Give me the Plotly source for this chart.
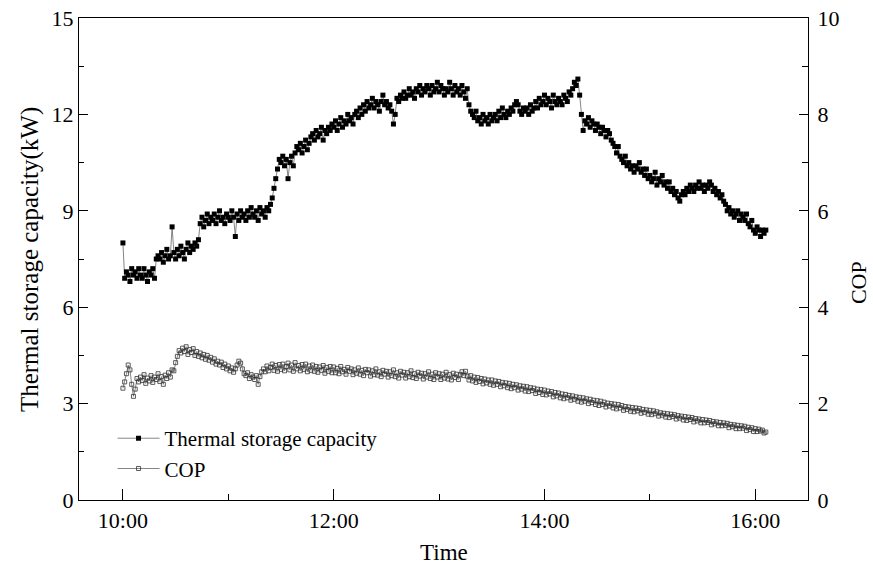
import pandas as pd
import plotly.graph_objects as go

# Sampling: one reading per minute starting at 10:00
start_time = "2020-01-01 10:00"

thermal_kw = [
    8.0, 6.9, 7.1, 7.0, 6.8, 7.2, 7.0, 7.1, 6.9, 7.2,
    7.0, 6.9, 7.2, 7.0, 6.8, 7.1, 7.0, 7.2, 6.9, 7.5,
    7.6, 7.5, 7.7, 7.4, 7.6, 7.8, 7.5, 7.6, 8.5, 7.7,
    7.5, 7.8, 7.6, 7.9, 7.7, 7.5, 7.8, 8.0, 7.7, 7.9,
    7.8, 8.0, 7.9, 8.1, 8.6, 8.8, 8.5, 8.7, 8.9, 8.6,
    8.8, 8.7, 8.9, 8.6, 8.8, 9.0, 8.7, 8.8, 8.6, 8.9,
    8.8, 8.7, 9.0, 8.8, 8.2, 8.9, 8.7, 9.0, 8.8, 8.9,
    8.7, 9.0, 8.8, 9.1, 8.9, 8.8, 9.0, 8.7, 9.1, 8.9,
    9.0, 8.8, 9.1, 9.0, 9.2, 9.4, 9.7, 10.0, 10.3, 10.6,
    10.5, 10.7, 10.4, 10.6, 10.0, 10.5, 10.7, 10.4, 10.8, 11.0,
    10.9, 11.1, 10.8, 11.0, 11.2, 10.9, 11.1, 11.3, 11.4, 11.2,
    11.5, 11.3, 11.4, 11.6, 11.2, 11.5, 11.4, 11.6, 11.5, 11.7,
    11.6, 11.8, 11.5, 11.7, 11.9, 11.6, 11.8, 11.7, 12.0, 11.8,
    11.9, 11.7, 12.0, 12.1, 11.9, 12.2, 12.0, 12.3, 12.1, 12.4,
    12.2, 12.3, 12.5, 12.2, 12.4, 12.3, 12.1, 12.4, 12.6, 12.3,
    12.4, 12.2, 12.3, 12.1, 11.7, 12.0, 12.5, 12.4, 12.6, 12.5,
    12.7, 12.5, 12.6, 12.8, 12.6, 12.7, 12.5, 12.8, 12.7, 12.9,
    12.6, 12.8, 12.7, 12.9, 12.8, 12.6, 12.9, 12.7, 12.8, 13.0,
    12.7, 12.9, 12.8, 12.6, 12.8, 12.7, 13.0, 12.8, 12.6, 12.9,
    12.7, 12.8, 12.6, 12.9, 12.7, 12.5, 12.8, 12.3, 12.1, 12.0,
    11.9, 12.1, 11.8, 11.9, 11.7, 12.0, 11.8, 11.9, 11.7, 12.0,
    11.8, 11.9, 12.0, 11.8, 12.1, 11.9, 12.2, 12.0, 11.9, 12.1,
    12.0, 12.2, 12.1, 12.3, 12.4, 12.3, 12.1, 12.0, 12.2, 12.1,
    12.2, 12.0, 12.3, 12.1, 12.2, 12.4, 12.2, 12.5, 12.3, 12.4,
    12.6, 12.3, 12.5, 12.4, 12.2, 12.6, 12.4, 12.3, 12.5, 12.4,
    12.3, 12.6, 12.5, 12.4, 12.7, 12.6, 12.8, 13.0, 12.9, 13.1,
    12.6, 12.0, 11.5, 11.8, 11.7, 11.9, 11.6, 11.8, 11.7, 11.5,
    11.7, 11.6, 11.4, 11.6, 11.5, 11.3, 11.5, 11.4, 11.2, 11.1,
    11.0, 10.8, 11.0, 10.7, 10.6, 10.5, 10.7, 10.4, 10.5, 10.3,
    10.4, 10.2, 10.4, 10.3, 10.5, 10.2, 10.3, 10.1, 10.3, 10.0,
    10.1, 9.9, 10.0, 10.2, 9.8, 10.0, 9.9, 10.1, 9.8, 9.9,
    9.7, 9.9, 9.6, 9.7, 9.5, 9.6, 9.4, 9.3, 9.5, 9.6,
    9.5, 9.7, 9.6, 9.8, 9.7, 9.6, 9.8, 9.7, 9.9, 9.7,
    9.8, 9.6, 9.8, 9.7, 9.9, 9.8, 9.6, 9.7, 9.5, 9.6,
    9.4, 9.5, 9.3, 9.2, 9.0, 9.1, 8.9, 9.0, 8.8, 8.9,
    9.0, 8.7, 8.9, 8.8, 8.7, 8.9, 8.6, 8.5, 8.7, 8.4,
    8.3, 8.5, 8.4, 8.2, 8.4, 8.3, 8.4,
]

cop = [
    2.32, 2.45, 2.62, 2.80, 2.70, 2.40, 2.15, 2.30, 2.52, 2.45,
    2.55, 2.48, 2.60, 2.42, 2.53, 2.47, 2.58, 2.44, 2.55, 2.50,
    2.62, 2.46, 2.56, 2.40, 2.59, 2.52, 2.64, 2.55, 2.70, 2.68,
    2.85, 2.98, 3.10, 3.05, 3.15, 3.08, 3.18, 3.02, 3.12, 3.06,
    3.14, 3.00, 3.08, 2.98, 3.05, 2.95, 3.02, 2.92, 3.00, 2.90,
    2.96, 2.86, 2.93, 2.82, 2.88, 2.80, 2.86, 2.75, 2.82, 2.72,
    2.78, 2.68, 2.74, 2.65, 2.72, 2.80, 2.88, 2.84, 2.72, 2.62,
    2.58, 2.64, 2.52, 2.60, 2.55, 2.50, 2.58, 2.40, 2.56, 2.66,
    2.72, 2.66, 2.78, 2.68, 2.75, 2.82, 2.69, 2.79, 2.67, 2.81,
    2.71, 2.82, 2.68, 2.77, 2.84, 2.70, 2.80, 2.67, 2.85, 2.72,
    2.79, 2.68, 2.81, 2.71, 2.82, 2.66, 2.78, 2.69, 2.80, 2.67,
    2.77, 2.65, 2.76, 2.69, 2.79, 2.63, 2.75, 2.67, 2.77, 2.64,
    2.76, 2.64, 2.73, 2.62, 2.77, 2.66, 2.71, 2.61, 2.75, 2.67,
    2.72, 2.60, 2.70, 2.63, 2.74, 2.61, 2.69, 2.58, 2.71, 2.64,
    2.70, 2.57, 2.68, 2.60, 2.72, 2.59, 2.66, 2.56, 2.69, 2.61,
    2.67, 2.55, 2.66, 2.58, 2.70, 2.56, 2.64, 2.53, 2.67, 2.59,
    2.65, 2.53, 2.64, 2.56, 2.68, 2.54, 2.62, 2.52, 2.65, 2.57,
    2.63, 2.51, 2.62, 2.55, 2.66, 2.52, 2.61, 2.50, 2.64, 2.55,
    2.62, 2.50, 2.61, 2.53, 2.65, 2.51, 2.60, 2.49, 2.63, 2.54,
    2.61, 2.50, 2.60, 2.66, 2.58, 2.67, 2.57, 2.49, 2.58, 2.47,
    2.55, 2.44, 2.54, 2.46, 2.52, 2.41, 2.51, 2.43, 2.49, 2.40,
    2.49, 2.38, 2.47, 2.40, 2.46, 2.35, 2.44, 2.37, 2.43, 2.33,
    2.42, 2.31, 2.40, 2.33, 2.39, 2.28, 2.37, 2.30, 2.36, 2.26,
    2.35, 2.25, 2.33, 2.27, 2.32, 2.21, 2.30, 2.23, 2.29, 2.19,
    2.28, 2.18, 2.26, 2.20, 2.25, 2.14, 2.23, 2.16, 2.22, 2.12,
    2.20, 2.10, 2.19, 2.12, 2.17, 2.07, 2.16, 2.09, 2.14, 2.05,
    2.13, 2.03, 2.12, 2.05, 2.10, 2.00, 2.09, 2.02, 2.07, 1.98,
    2.06, 1.96, 2.05, 1.98, 2.03, 1.93, 2.01, 1.95, 2.00, 1.91,
    1.99, 1.89, 1.98, 1.91, 1.96, 1.86, 1.94, 1.88, 1.93, 1.84,
    1.92, 1.83, 1.91, 1.85, 1.90, 1.80, 1.88, 1.82, 1.87, 1.78,
    1.86, 1.77, 1.85, 1.79, 1.83, 1.74, 1.81, 1.76, 1.80, 1.72,
    1.79, 1.71, 1.78, 1.73, 1.77, 1.68, 1.75, 1.70, 1.74, 1.66,
    1.73, 1.65, 1.72, 1.67, 1.71, 1.62, 1.69, 1.64, 1.68, 1.60,
    1.67, 1.60, 1.66, 1.61, 1.65, 1.56, 1.63, 1.58, 1.62, 1.54,
    1.61, 1.54, 1.60, 1.55, 1.59, 1.50, 1.57, 1.52, 1.56, 1.48,
    1.55, 1.48, 1.54, 1.49, 1.53, 1.44, 1.51, 1.46, 1.50, 1.42,
    1.48, 1.42, 1.47, 1.43, 1.45, 1.39, 1.41,
]

times = pd.date_range(start_time, periods=len(thermal_kw), freq="1min")
times_cop = pd.date_range(start_time, periods=len(cop), freq="1min")

FONT = "Liberation Serif, Times New Roman, serif"

fig = go.Figure()
fig.add_trace(go.Scatter(
    x=times, y=thermal_kw, name="Thermal storage capacity",
    mode="lines+markers",
    line=dict(color="#666666", width=0.8),
    marker=dict(symbol="square", size=5, color="black"),
    yaxis="y",
))
fig.add_trace(go.Scatter(
    x=times_cop, y=cop, name="COP",
    mode="lines+markers",
    line=dict(color="#666666", width=0.8),
    marker=dict(symbol="square-open", size=4, color="#333333", line=dict(width=0.8)),
    yaxis="y2",
))

axis_common = dict(
    showgrid=False, zeroline=False, showline=True, linecolor="black", linewidth=1.2,
    ticks="inside", tickwidth=1, tickcolor="black",
    tickfont=dict(family=FONT, size=22, color="black"),
    automargin=False,
)

fig.update_layout(
    width=873, height=571,
    margin=dict(l=79, r=65, t=18, b=71),
    plot_bgcolor="white", paper_bgcolor="white",
    font=dict(family=FONT, color="black"),
    xaxis=dict(
        **axis_common,
        ticklen=11,
        type="date",
        range=["2020-01-01 09:35", "2020-01-01 16:30"],
        tick0="2020-01-01 10:00", dtick=2 * 3600 * 1000,
        tickformat="%H:%M",
        minor=dict(dtick=3600 * 1000, tick0="2020-01-01 10:00", ticks="inside",
                   ticklen=6, tickcolor="black"),
        mirror=True,
    ),
    yaxis=dict(
        **axis_common,
        ticklen=9,
        range=[0, 15], tick0=0, dtick=3,
        minor=dict(dtick=1.5, ticks="inside", ticklen=5, tickcolor="black"),
    ),
    yaxis2=dict(
        **axis_common,
        ticklen=9,
        overlaying="y", side="right",
        range=[0, 10], tick0=0, dtick=2,
        ticklabelstandoff=4,
        minor=dict(dtick=1, ticks="inside", ticklen=6, tickcolor="black"),
    ),
    legend=dict(
        x=0.046, y=0.17, xanchor="left", yanchor="top",
        bgcolor="rgba(0,0,0,0)",
        font=dict(family=FONT, size=21, color="black"),
        tracegroupgap=0, itemwidth=42,
    ),
    showlegend=True,
    annotations=[
        dict(text="Time", xref="paper", yref="paper", x=0.5, y=-0.108,
             xanchor="center", yanchor="middle", showarrow=False,
             font=dict(family=FONT, size=23, color="black")),
        dict(text="Thermal storage capacity(kW)", xref="paper", yref="paper",
             x=-0.067, y=0.498, textangle=-90, xanchor="center", yanchor="middle",
             showarrow=False, font=dict(family=FONT, size=25, color="black")),
        dict(text="COP", xref="paper", yref="paper", x=1.0686, y=0.45,
             textangle=-90, xanchor="center", yanchor="middle", showarrow=False,
             font=dict(family=FONT, size=22, color="black")),
    ],
)

fig.write_html("out.html")
